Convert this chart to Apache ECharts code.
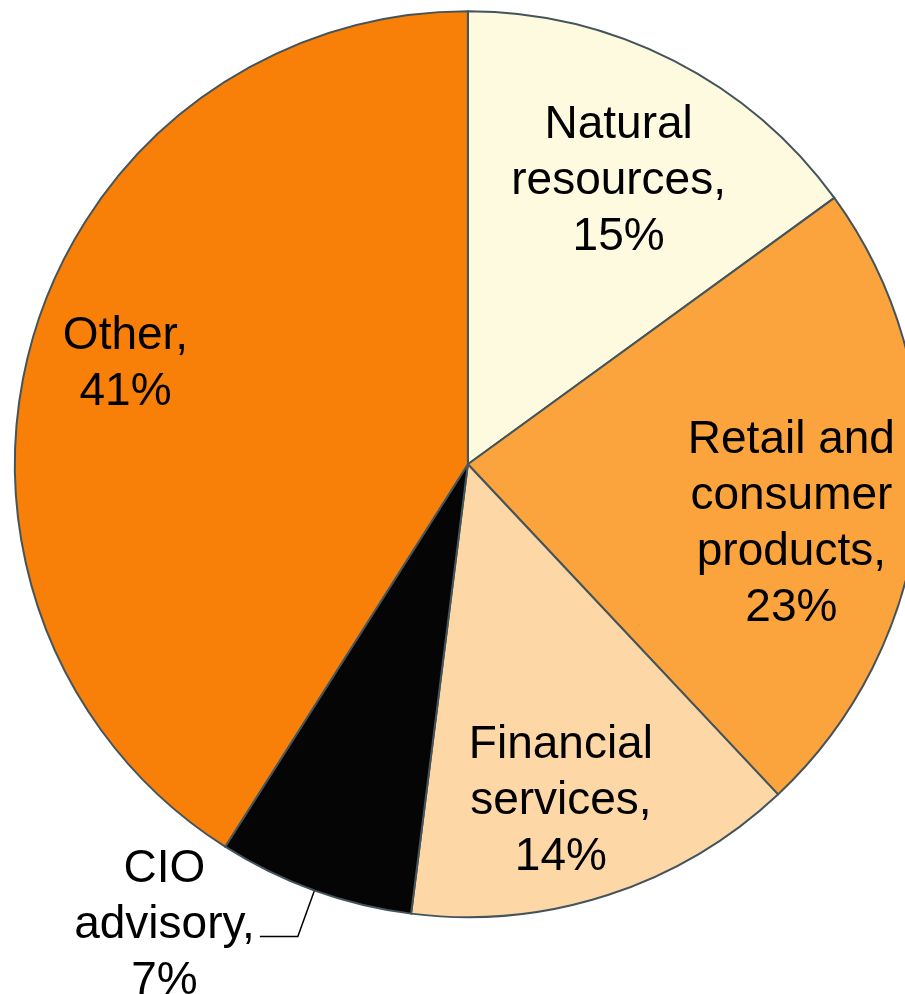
<!DOCTYPE html>
<html>
<head>
<meta charset="utf-8">
<script src="https://cdn.jsdelivr.net/npm/echarts@6/dist/echarts.min.js"></script>
<style>html,body{margin:0;padding:0;background:#fff;}#c{width:905px;height:994px;}</style>
</head>
<body>
<div id="c"></div>
<script>
const categories = ['Natural resources', 'Retail and consumer products', 'Financial services', 'CIO advisory', 'Other'];
const labelTexts = ['Natural\nresources,', 'Retail and\nconsumer\nproducts,', 'Financial\nservices,', 'CIO\nadvisory,', 'Other,'];
const values = [15, 23, 14, 7, 41];
const colors = ['#FEFADF', '#FBA43D', '#FDD8A6', '#050505', '#F98008'];
// label nudges in px [dx, dy]
const labelNudges = [[-5, 23], [-18, 28], [-13, 11], [0, 0], [-13, -4]];

const chart = echarts.init(document.getElementById('c'));
const font = { fontFamily: 'Liberation Sans, Arial, sans-serif', fontSize: 46, lineHeight: 56, color: '#000' };

const mainData = categories.map((n, i) => ({
  name: n, value: values[i],
  itemStyle: { color: colors[i] },
  label: i === 3 ? {
    show: true, position: 'outside', padding: [0, 0, 22, 0],
    formatter: () => '{c|CIO}\n{c|advisory,}\n{c|' + values[i] + '%}',
    rich: { c: Object.assign({ align: 'center' }, font) }
  } : { show: false },
  labelLine: i === 3 ? { show: true, length: 49, length2: 38, lineStyle: { color: '#000', width: 1.5 } } : { show: false }
}));

const labelData = categories.map((n, i) => ({
  name: n, value: values[i],
  itemStyle: { color: 'rgba(0,0,0,0)' },
  label: i === 3 ? { show: false } : {
    show: true, position: 'inside',
    formatter: () => labelTexts[i] + '\n' + values[i] + '%',
    ...font, align: 'center'
  }
}));

chart.setOption({
  animation: false,
  series: [
    {
      type: 'pie', center: ['51.7%', '46.7%'], radius: [0, 453],
      startAngle: 90, clockwise: true, avoidLabelOverlap: false,
      itemStyle: { borderColor: '#44545a', borderWidth: 2 },
      data: mainData, silent: true
    },
    {
      type: 'pie', center: ['51.7%', '46.7%'], radius: [0, 680],
      startAngle: 90, clockwise: true, avoidLabelOverlap: false, silent: true,
      itemStyle: { borderWidth: 0 },
      labelLine: { show: false },
      labelLayout: (p) => ({ dx: labelNudges[p.dataIndex][0], dy: labelNudges[p.dataIndex][1] }),
      data: labelData
    }
  ]
});
</script>
</body>
</html>
